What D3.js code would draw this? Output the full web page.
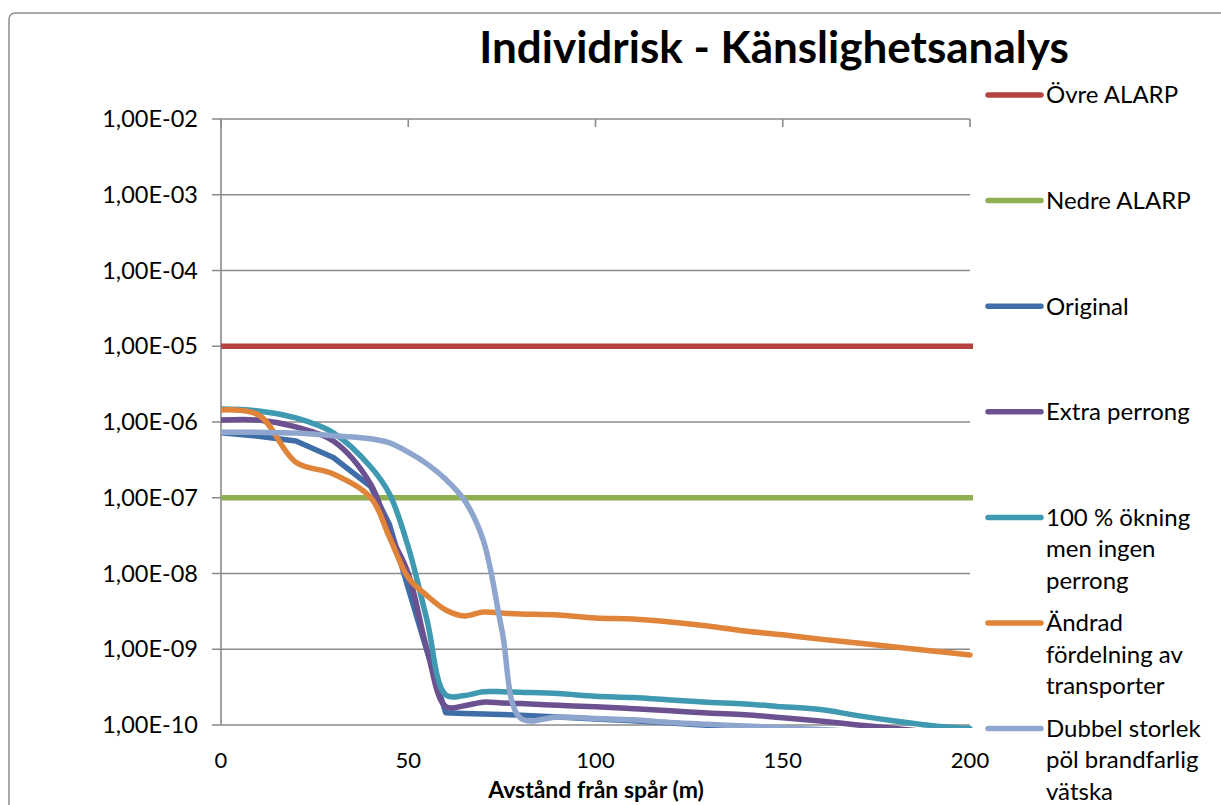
<!DOCTYPE html>
<html>
<head>
<meta charset="utf-8">
<script src="https://cdn.jsdelivr.net/npm/d3@7"></script>
<style>
  body { margin: 0; background: #fff; }
  text { font-family: Lato, "Open Sans", sans-serif; fill: #000; }
</style>
</head>
<body>
<svg id="chart" width="1221" height="805"></svg>
<script>
let distance = [0, 10, 20, 30, 40, 45, 50, 55, 60, 65, 70, 75, 80, 90, 100, 110, 120, 130, 140, 150, 160, 170, 180, 190, 200];

let original = [7.2e-7, 6.5e-7, 5.6e-7, 3.4e-7, 1.4e-7, 4.4e-8, 6.4e-9, 9.5e-10, 1.45e-10, 1.42e-10, 1.4e-10, 1.38e-10, 1.35e-10, 1.28e-10, 1.2e-10, 1.14e-10, 1.06e-10, 9.9e-11, 9.3e-11, 8.7e-11, 8.2e-11, 7.7e-11, 7.2e-11, 6.8e-11, 6.4e-11];
let extraPerrong = [1.06e-6, 1.06e-6, 8.6e-7, 5.6e-7, 1.5e-7, 3.4e-8, 1.0e-8, 1.0e-9, 1.75e-10, 1.8e-10, 2.0e-10, 1.95e-10, 1.92e-10, 1.82e-10, 1.74e-10, 1.64e-10, 1.54e-10, 1.44e-10, 1.37e-10, 1.25e-10, 1.13e-10, 1.0e-10, 9e-11, 8e-11, 7e-11];
let okning = [1.48e-6, 1.4e-6, 1.13e-6, 7.2e-7, 2.55e-7, 1.12e-7, 2.24e-8, 2.43e-9, 2.5e-10, 2.45e-10, 2.75e-10, 2.75e-10, 2.7e-10, 2.6e-10, 2.4e-10, 2.3e-10, 2.14e-10, 2.0e-10, 1.9e-10, 1.74e-10, 1.6e-10, 1.33e-10, 1.13e-10, 9.8e-11, 9e-11];
let andrad = [1.44e-6, 1.24e-6, 2.95e-7, 2.06e-7, 1.0e-7, 3.0e-8, 8.8e-9, 5.1e-9, 3.3e-9, 2.75e-9, 3.1e-9, 3.0e-9, 2.92e-9, 2.83e-9, 2.58e-9, 2.51e-9, 2.29e-9, 2.03e-9, 1.74e-9, 1.55e-9, 1.36e-9, 1.21e-9, 1.07e-9, 9.5e-10, 8.4e-10];
let dubbel = [7.3e-7, 7.3e-7, 7.16e-7, 6.6e-7, 6.0e-7, 5.3e-7, 4.0e-7, 2.8e-7, 1.75e-7, 9.3e-8, 2.77e-8, 1.8e-9, 1.23e-10, 1.28e-10, 1.22e-10, 1.17e-10, 1.08e-10, 1.02e-10, 9.7e-11, 9.2e-11, 8.7e-11, 8.2e-11, 7.7e-11, 7.2e-11, 6.8e-11];

let ovreAlarp = 1e-5;
let nedreAlarp = 1e-7;

let xTicks = [0, 50, 100, 150, 200];
let yTicks = [1e-2, 1e-3, 1e-4, 1e-5, 1e-6, 1e-7, 1e-8, 1e-9, 1e-10];

let legendNames = ["Övre ALARP", "Nedre ALARP", "Original", "Extra perrong", "100 % ökning men ingen perrong", "Ändrad fördelning av transporter", "Dubbel storlek pöl brandfarlig vätska"];
let colors = ["#B5433F", "#8FAF50", "#3F6DA8", "#6B5190", "#3F9AB1", "#E0843A", "#8EA6CD"];

let series = [
  { name: legendNames[2], values: original, color: colors[2], smooth: false },
  { name: legendNames[3], values: extraPerrong, color: colors[3], smooth: true },
  { name: legendNames[4], values: okning, color: colors[4], smooth: true },
  { name: legendNames[5], values: andrad, color: colors[5], smooth: true },
  { name: legendNames[6], values: dubbel, color: colors[6], smooth: true }
];

let svg = d3.select("#chart");
let plot = { left: 221, right: 970, top: 119, bottom: 725 };
let lineWidth = 5.5;

let x = d3.scaleLinear().domain([0, 200]).range([plot.left, plot.right]);
let y = d3.scaleLog().domain([1e-10, 1e-2]).range([plot.bottom, plot.top]);

// chart frame
svg
  .append("rect")
  .attr("x", 9)
  .attr("y", 13)
  .attr("width", 1260)
  .attr("height", 840)
  .attr("rx", 6)
  .attr("fill", "#fff")
  .attr("stroke", "#8c8c8c")
  .attr("stroke-width", 1.5);

svg
  .append("text")
  .text("Individrisk - Känslighetsanalys")
  .attr("x", 774)
  .attr("y", 63)
  .attr("text-anchor", "middle")
  .attr("font-size", 44)
  .attr("font-weight", 700);

// horizontal grid lines, extended left as tick marks
svg
  .append("g")
  .selectAll("line")
  .data(yTicks)
  .enter()
  .append("line")
  .attr("x1", plot.left - 9)
  .attr("x2", plot.right)
  .attr("y1", (d) => y(d))
  .attr("y2", (d) => y(d))
  .attr("stroke", "#8a8a8a")
  .attr("stroke-width", 1.6);

svg
  .append("line")
  .attr("x1", plot.left)
  .attr("x2", plot.left)
  .attr("y1", plot.top)
  .attr("y2", plot.bottom)
  .attr("stroke", "#8a8a8a")
  .attr("stroke-width", 1.6);

// x ticks sit on the top of the plot
svg
  .append("g")
  .selectAll("line")
  .data(xTicks)
  .enter()
  .append("line")
  .attr("x1", (d) => x(d))
  .attr("x2", (d) => x(d))
  .attr("y1", plot.top)
  .attr("y2", plot.top + 8)
  .attr("stroke", "#8a8a8a")
  .attr("stroke-width", 1.6);

let yFormat = (d) => "1,00E-" + String(Math.round(-Math.log10(d))).padStart(2, "0");

svg
  .append("g")
  .selectAll("text")
  .data(yTicks)
  .enter()
  .append("text")
  .text(yFormat)
  .attr("x", 198)
  .attr("y", (d) => y(d))
  .attr("dy", "0.35em")
  .attr("text-anchor", "end")
  .attr("font-size", 23.5);

svg
  .append("g")
  .selectAll("text")
  .data(xTicks)
  .enter()
  .append("text")
  .text((d) => d)
  .attr("x", (d) => x(d))
  .attr("y", 760)
  .attr("dy", "0.35em")
  .attr("text-anchor", "middle")
  .attr("font-size", 22);

svg
  .append("text")
  .text("Avstånd från spår (m)")
  .attr("x", 596)
  .attr("y", 790)
  .attr("dy", "0.35em")
  .attr("text-anchor", "middle")
  .attr("font-size", 23)
  .attr("font-weight", 700);

svg
  .append("clipPath")
  .attr("id", "plotClip")
  .append("rect")
  .attr("x", plot.left)
  .attr("y", plot.top - 4)
  .attr("width", plot.right - plot.left + 4)
  .attr("height", plot.bottom - plot.top + 7);

let lines = svg.append("g").attr("clip-path", "url(#plotClip)");

[ovreAlarp, nedreAlarp].forEach((level, i) => {
  lines
    .append("line")
    .attr("x1", x(0))
    .attr("x2", x(200) + 3)
    .attr("y1", y(level))
    .attr("y2", y(level))
    .attr("stroke", colors[i])
    .attr("stroke-width", lineWidth);
});

series.forEach((s) => {
  let line = d3
    .line()
    .x((d, i) => x(distance[i]))
    .y((d) => y(d))
    .curve(s.smooth ? d3.curveCatmullRom.alpha(0.5) : d3.curveLinear);

  lines
    .append("path")
    .attr("d", line(s.values))
    .attr("fill", "none")
    .attr("stroke", s.color)
    .attr("stroke-width", lineWidth)
    .attr("stroke-linejoin", "round")
    .attr("stroke-linecap", "round");
});

// legend, long names wrapped onto several lines
let legend = svg.append("g").attr("transform", "translate(986, 95)");
let rowStep = 105.6;

legendNames.forEach((name, i) => {
  let row = legend.append("g").attr("transform", `translate(0, ${i * rowStep})`);
  row
    .append("line")
    .attr("x1", 2)
    .attr("x2", 55)
    .attr("stroke", colors[i])
    .attr("stroke-width", lineWidth)
    .attr("stroke-linecap", "round");

  let text = row.append("text").attr("font-size", 24);
  let words = name.split(" ");
  let lineNo = 0;
  let tspan = text.append("tspan").attr("x", 60).attr("y", 0).attr("dy", "0.35em");
  let current = [];
  words.forEach((w) => {
    current.push(w);
    tspan.text(current.join(" "));
    if (tspan.node().getComputedTextLength() > 162 && current.length > 1) {
      current.pop();
      tspan.text(current.join(" "));
      current = [w];
      lineNo++;
      tspan = text
        .append("tspan")
        .attr("x", 60)
        .attr("y", lineNo * 31.5)
        .attr("dy", "0.35em")
        .text(w);
    }
  });
});
</script>
</body>
</html>
